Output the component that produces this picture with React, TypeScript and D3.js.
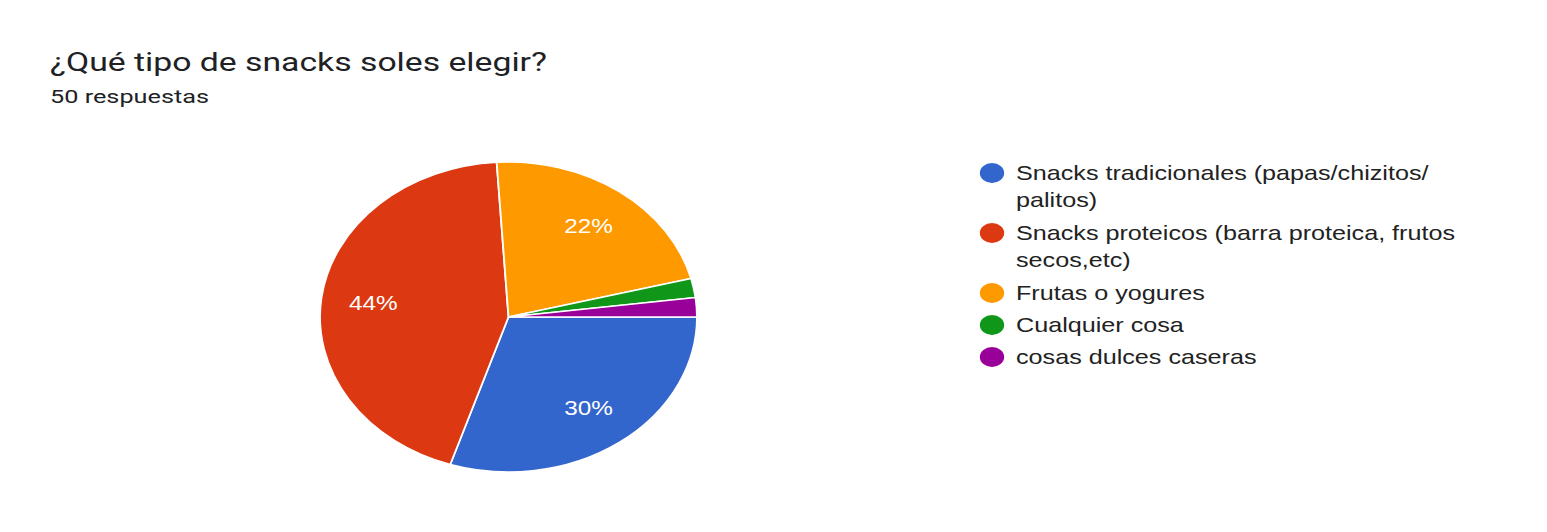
import React from "react";
import * as d3 from "d3";

const categories = [
  "Snacks tradicionales (papas/chizitos/ palitos)",
  "Snacks proteicos (barra proteica, frutos secos,etc)",
  "Frutas o yogures",
  "Cualquier cosa",
  "cosas dulces caseras",
];
const legendLines = [
  ["Snacks tradicionales (papas/chizitos/", "palitos)"],
  ["Snacks proteicos (barra proteica, frutos", "secos,etc)"],
  ["Frutas o yogures"],
  ["Cualquier cosa"],
  ["cosas dulces caseras"],
];
const counts = [15, 22, 11, 1, 1];
const colors = ["#3366cc", "#dc3912", "#ff9900", "#109618", "#990099"];
const title = "¿Qué tipo de snacks soles elegir?";
const subtitle = "50 respuestas";

const W = 1547;
const H = 532;
const SX = 1.216;

export default function App() {
  const total = d3.sum(counts);
  const pie = d3
    .pie<number>()
    .sort(null)
    .startAngle(Math.PI / 2)
    .endAngle(Math.PI / 2 + 2 * Math.PI)(counts);
  const R = 155;
  const arc = d3.arc<d3.PieArcDatum<number>>().innerRadius(0).outerRadius(R);
  const labelArc = d3.arc<d3.PieArcDatum<number>>().innerRadius(112).outerRadius(112);
  const cx = 508.5 / SX;
  const cy = 317;

  const legendX = 992 / SX;
  const textX = 1016 / SX;
  const itemY = [173, 233, 293, 325, 357];

  return (
    <svg width={W} height={H} style={{ position: "absolute", left: 0, top: 0, background: "#fff" }}>
      <g transform={`scale(${SX},1)`}>
        <text
          x={50 / SX}
          y={71.5}
          fontFamily="Roboto"
          fontSize={26}
          fill="#202124"
          textLength={497 / SX}
          lengthAdjust="spacingAndGlyphs"
        >
          {title}
        </text>
        <text
          x={50 / SX}
          y={103.5}
          fontFamily="Roboto"
          fontSize={18.5}
          fill="#202124"
          textLength={159 / SX}
          lengthAdjust="spacingAndGlyphs"
        >
          {subtitle}
        </text>
        <g transform={`translate(${cx},${cy})`}>
          {pie.map((d, i) => (
            <path key={categories[i]} d={arc(d) || ""} fill={colors[i]} stroke="#fff" strokeWidth={1.5} />
          ))}
          {pie.map((d, i) => {
            const pct = d.value / total;
            if (pct < 0.05) return null;
            const [lx, ly] = labelArc.centroid(d);
            return (
              <text
                key={"l" + i}
                x={lx}
                y={ly}
                dy="0.35em"
                textAnchor="middle"
                fontFamily="Liberation Sans, Arial"
                fontSize={20}
                fill="#fff"
              >
                {d3.format(".0%")(pct)}
              </text>
            );
          })}
        </g>
        {legendLines.map((lines, i) => (
          <g key={"lg" + i}>
            <circle cx={legendX} cy={itemY[i]} r={10} fill={colors[i]} />
            {lines.map((t, j) => (
              <text
                key={j}
                x={textX}
                y={itemY[i] + j * 27}
                dy="0.35em"
                fontFamily="Liberation Sans, Arial"
                fontSize={20.7}
                fill="#222"
              >
                {t}
              </text>
            ))}
          </g>
        ))}
      </g>
    </svg>
  );
}
